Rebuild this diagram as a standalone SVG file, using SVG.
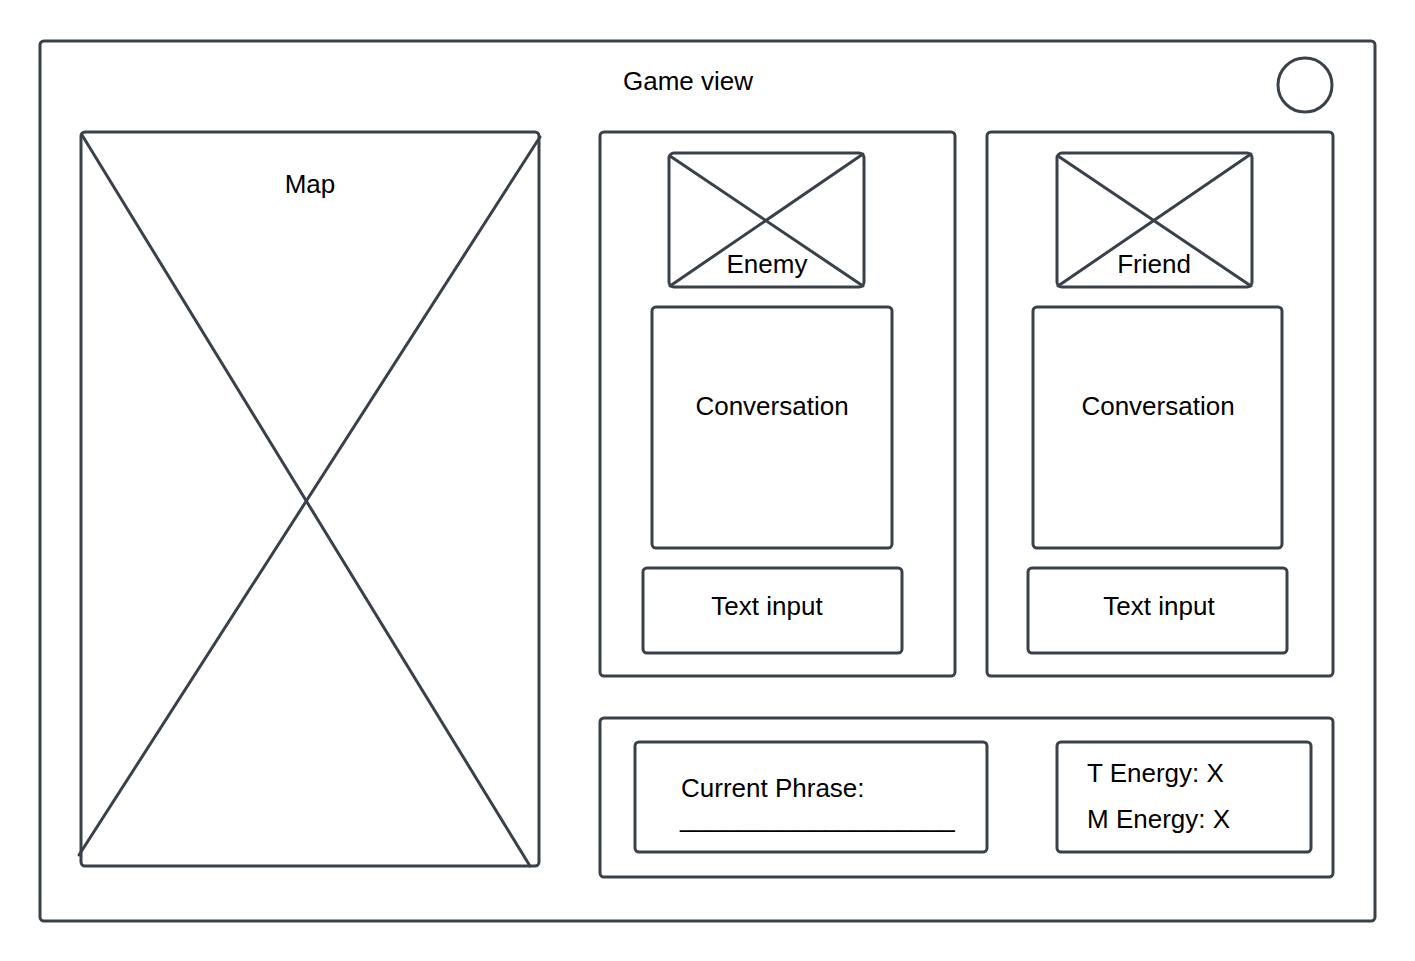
<svg xmlns="http://www.w3.org/2000/svg" width="1415" height="961" viewBox="0 0 1415 961">
<style>
.b{fill:none;stroke:#3a414a;stroke-width:3;stroke-linejoin:round}
.l{stroke:#3a414a;stroke-width:3;stroke-linecap:round;fill:none}
text{font-family:"Liberation Sans",Arial,sans-serif;font-size:26px;fill:#000}
.c{text-anchor:middle}
</style>
<rect width="1415" height="961" fill="#fff"/>
<g id="game-view">
<rect class="b" x="40" y="41" width="1335" height="880" rx="4"/>
<text class="c" x="688" y="90">Game view</text>
</g>
<g id="button">
<circle class="b" cx="1305" cy="85" r="27"/>
</g>
<g id="map">
<rect class="b" x="81" y="132" width="458" height="734" rx="4"/>
<line class="l" x1="82" y1="135" x2="530" y2="866"/>
<line class="l" x1="540" y1="137" x2="79" y2="855"/>
<text class="c" x="310" y="193">Map</text>
</g>
<g id="enemy-panel">
<rect class="b" x="600" y="132" width="355" height="544" rx="4"/>
</g>
<g id="enemy-image">
<rect class="b" x="669" y="153" width="195" height="134" rx="5"/>
<line class="l" x1="670" y1="156" x2="863" y2="286"/>
<line class="l" x1="863" y1="154" x2="670" y2="286"/>
<text class="c" x="767" y="273">Enemy</text>
</g>
<g id="enemy-conversation">
<rect class="b" x="652" y="307" width="240" height="241" rx="4"/>
<text class="c" x="772" y="415">Conversation</text>
</g>
<g id="enemy-input">
<rect class="b" x="643" y="568" width="259" height="85" rx="4"/>
<text class="c" x="767" y="615">Text input</text>
</g>
<g id="friend-panel">
<rect class="b" x="987" y="132" width="346" height="544" rx="4"/>
</g>
<g id="friend-image">
<rect class="b" x="1057" y="153" width="195" height="134" rx="5"/>
<line class="l" x1="1058" y1="156" x2="1251" y2="286"/>
<line class="l" x1="1251" y1="154" x2="1058" y2="286"/>
<text class="c" x="1154" y="273">Friend</text>
</g>
<g id="friend-conversation">
<rect class="b" x="1033" y="307" width="249" height="241" rx="4"/>
<text class="c" x="1158" y="415">Conversation</text>
</g>
<g id="friend-input">
<rect class="b" x="1028" y="568" width="259" height="85" rx="4"/>
<text class="c" x="1159" y="615">Text input</text>
</g>
<g id="status-panel">
<rect class="b" x="600" y="718" width="733" height="159" rx="4"/>
</g>
<g id="current-phrase">
<rect class="b" x="635" y="742" width="352" height="110" rx="4"/>
<text x="681" y="797">Current Phrase:</text>
<text x="680" y="827">___________________</text>
</g>
<g id="energy">
<rect class="b" x="1057" y="742" width="254" height="110" rx="4"/>
<text x="1087" y="782">T Energy: X</text>
<text x="1087" y="828">M Energy: X</text>
</g>
<g id="connectors"></g>
</svg>
